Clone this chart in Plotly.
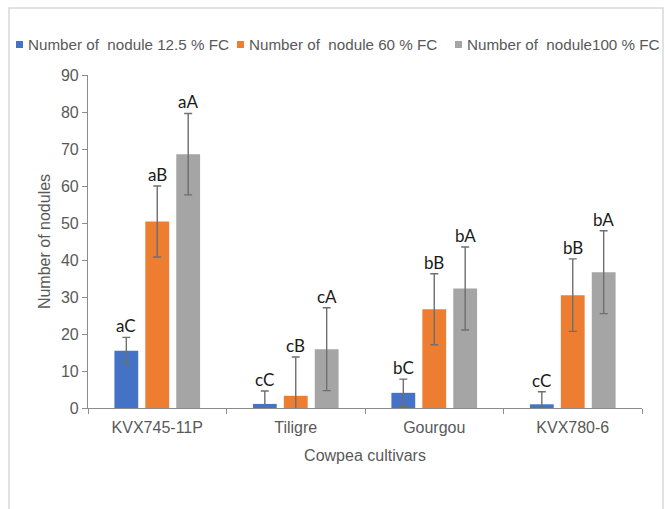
import plotly.graph_objects as go

# Cowpea cultivars and nodule counts at three soil moisture levels
cultivars = ["KVX745-11P", "Tiligre", "Gourgou", "KVX780-6"]
series_names = [
    "Number of  nodule 12.5 % FC",
    "Number of  nodule 60 % FC",
    "Number of  nodule100 % FC",
]
nodules_12_5 = [15.5, 1.1, 4.1, 1.0]
nodules_60 = [50.4, 3.3, 26.7, 30.5]
nodules_100 = [68.6, 15.9, 32.3, 36.7]
err_12_5 = [3.6, 3.5, 3.7, 3.4]
err_60 = [9.6, 10.5, 9.6, 9.8]
err_100 = [11.0, 11.2, 11.2, 11.2]
letters_12_5 = ["aC", "cC", "bC", "cC"]
letters_60 = ["aB", "cB", "bB", "bB"]
letters_100 = ["aA", "cA", "bA", "bA"]

values = [nodules_12_5, nodules_60, nodules_100]
errors = [err_12_5, err_60, err_100]
letters = [letters_12_5, letters_60, letters_100]
colors = ["#4472C4", "#ED7D31", "#A5A5A5"]

TEXT_GREY = "#595959"
AXIS_GREY = "#8c8c8c"
BARGAP = 0.33
BARGROUPGAP = 0.23

fig = go.Figure()
for name, vals, errs, col in zip(series_names, values, errors, colors):
    fig.add_trace(go.Bar(
        x=cultivars, y=vals, name=name, marker_color=col,
        marker_line_width=0, showlegend=False,
        error_y=dict(type="data", array=errs, visible=True,
                     color="#6f6f6f", thickness=1.4, width=4),
    ))

# significance letters above each error bar
slot = (1 - BARGAP) / 3
for k, (vals, errs, labs) in enumerate(zip(values, errors, letters)):
    for i, (v, e, t) in enumerate(zip(vals, errs, labs)):
        fig.add_annotation(
            x=i + (k - 1) * slot, y=v + e, text=t, showarrow=False,
            xref="x", yref="y", yanchor="bottom", yshift=-1,
            font=dict(family="Lato", size=17, color="#1a1a1a"),
        )

# legend drawn as colored squares with labels across the top
legend_x = [16, 237, 455]
for name, col, px in zip(series_names, colors, legend_x):
    x0 = (px - 88) / 554
    fig.add_shape(type="rect", xref="paper", yref="paper",
                  x0=x0, x1=x0 + 7 / 554,
                  y0=(408 - 48) / 333, y1=(408 - 41) / 333,
                  fillcolor=col, line_width=0)
    fig.add_annotation(
        x=x0 + 10 / 554, y=(408 - 44.5) / 333, xref="paper", yref="paper",
        text=name, showarrow=False, xanchor="left", yanchor="middle",
        font=dict(family="Liberation Sans", size=15.2, color=TEXT_GREY),
    )

# chart frame
fig.add_shape(type="rect", xref="paper", yref="paper",
              x0=(9 - 88) / 554, x1=(663 - 88) / 554,
              y0=(408 - 560) / 333, y1=(408 - 8) / 333,
              line=dict(color="#d9d9d9", width=1.5), fillcolor="rgba(0,0,0,0)",
              layer="below")

fig.update_layout(
    width=665, height=509,
    margin=dict(l=88, r=23, t=75, b=101),
    paper_bgcolor="white", plot_bgcolor="white",
    barmode="group", bargap=BARGAP, bargroupgap=BARGROUPGAP,
    font=dict(family="Liberation Sans", size=16, color=TEXT_GREY),
    showlegend=False,
)
fig.update_xaxes(
    type="category", showline=True, linecolor=AXIS_GREY, linewidth=1.2,
    ticks="outside", tickson="boundaries", ticklen=5, tickcolor=AXIS_GREY,
    tickfont=dict(size=16, color=TEXT_GREY), ticklabelstandoff=5,
    title=dict(text="Cowpea cultivars", font=dict(size=16, color=TEXT_GREY),
               standoff=14),
    showgrid=False,
)
fig.update_yaxes(
    range=[0, 90], dtick=10, showline=True, linecolor=AXIS_GREY, linewidth=1.2,
    ticks="outside", ticklen=5, tickcolor=AXIS_GREY,
    tickfont=dict(size=16, color=TEXT_GREY),
    title=dict(text="Number of nodules", font=dict(size=16, color=TEXT_GREY),
               standoff=6),
    showgrid=False, zeroline=False,
)

fig.write_html("out.html")
